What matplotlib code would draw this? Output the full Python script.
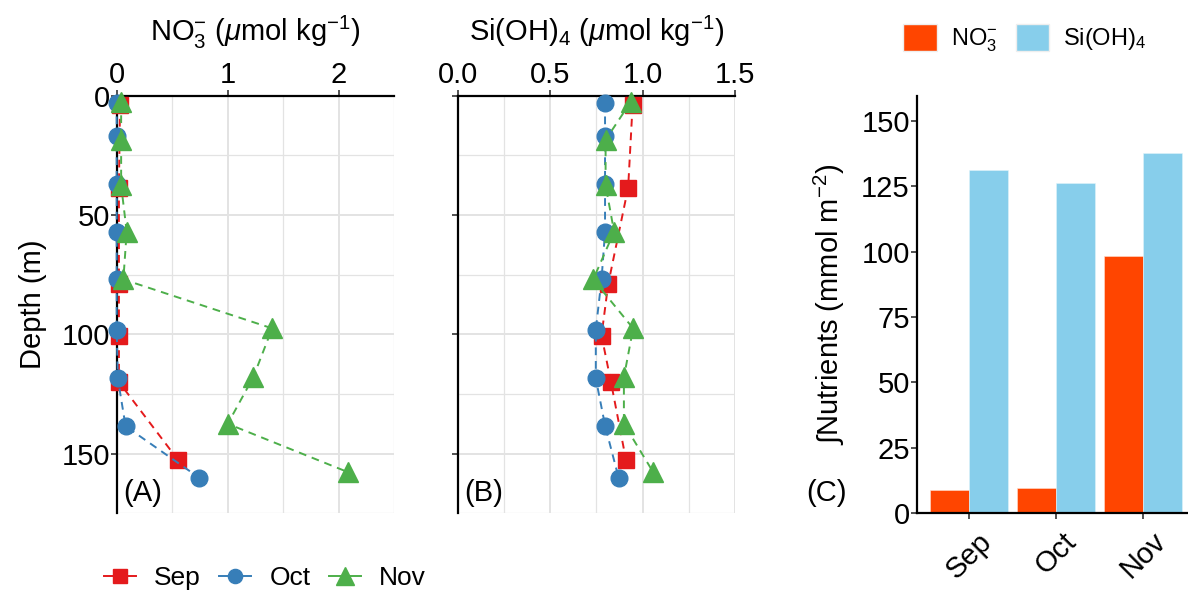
import matplotlib

matplotlib.use("Agg")

import matplotlib.pyplot as plt  # noqa: E402
from matplotlib.lines import Line2D  # noqa: E402
from matplotlib.patches import Patch  # noqa: E402
from matplotlib.ticker import MultipleLocator  # noqa: E402
import numpy as np  # noqa: E402

plt.rcParams["font.family"] = ["Liberation Sans", "DejaVu Sans"]
plt.rcParams["mathtext.fontset"] = "custom"
plt.rcParams["mathtext.rm"] = "Liberation Sans"
plt.rcParams["mathtext.it"] = "Liberation Sans:italic"
plt.rcParams["mathtext.bf"] = "Liberation Sans:bold"

# profile data (depth in m)
months = ["Sep", "Oct", "Nov"]
sep_depth = [4, 38.5, 79, 100.5, 120, 152.5]
sep_no3 = [0.03, 0.02, 0.02, 0.02, 0.02, 0.55]
sep_si = [0.946, 0.922, 0.814, 0.778, 0.829, 0.91]

oct_depth = [3, 17, 37, 57, 77, 98, 118.5, 138.5, 160]
oct_no3 = [0.0, 0.0, 0.0, 0.0, 0.0, 0.0, 0.01, 0.08, 0.74]
oct_si = [0.797, 0.797, 0.797, 0.797, 0.778, 0.747, 0.747, 0.798, 0.87]

nov_depth = [2.5, 18.5, 37.5, 57, 77, 97.5, 118, 137.5, 157.7]
nov_no3 = [0.04, 0.04, 0.04, 0.09, 0.06, 1.40, 1.23, 1.0, 2.08]
nov_si = [0.937, 0.80, 0.80, 0.846, 0.733, 0.949, 0.899, 0.899, 1.057]

# depth-integrated stocks (mmol m-2)
int_no3 = [9.0, 9.7, 98.3]
int_si = [131.3, 126.2, 137.7]

COLORS = {"Sep": "#E41A1C", "Oct": "#377EB8", "Nov": "#4DAF4A"}
MARKERS = {"Sep": ("s", 11.5), "Oct": ("o", 12), "Nov": ("^", 15)}
GRID = "#E3E3E3"
TICK_FS = 21
LAB_FS = 21

W, H = 1188, 592
fig = plt.figure(figsize=(W / 100, H / 100), dpi=100)


def fig_rect(x0, x1, ytop, ybot):
    return (x0 / W, 1 - ybot / H, (x1 - x0) / W, (ybot - ytop) / H)


axA = fig.add_axes(fig_rect(116.7, 394.3, 95.7, 513.3))
axB = fig.add_axes(fig_rect(457.7, 735.0, 95.7, 513.3))
axC = fig.add_axes(fig_rect(916.7, 1195.0, 95.7, 513.3))

profiles = {
    "Sep": (sep_depth, sep_no3, sep_si),
    "Oct": (oct_depth, oct_no3, oct_si),
    "Nov": (nov_depth, nov_no3, nov_si),
}


def style_profile(ax, xmax, major, minor, title, ylabels):
    ax.set_xlim(0, xmax)
    ax.set_ylim(175, 0)
    ax.xaxis.set_major_locator(MultipleLocator(major))
    ax.xaxis.set_minor_locator(MultipleLocator(minor))
    ax.yaxis.set_major_locator(MultipleLocator(50))
    ax.yaxis.set_minor_locator(MultipleLocator(25))
    ax.xaxis.tick_top()
    ax.xaxis.set_label_position("top")
    ax.grid(True, which="major", color=GRID, lw=1.4, zorder=0)
    ax.grid(True, which="minor", color=GRID, lw=0.9, zorder=0)
    ax.set_axisbelow(True)
    for s in ("right", "bottom"):
        ax.spines[s].set_visible(False)
    for s in ("left", "top"):
        ax.spines[s].set_linewidth(1.6)
    ax.tick_params(which="major", length=4, width=1.2, color="#333333",
                   labelsize=TICK_FS, pad=1)
    ax.tick_params(which="minor", length=0)
    if not ylabels:
        ax.tick_params(axis="y", labelleft=False)
    ax.set_title(title, fontsize=LAB_FS, pad=14)


for m in months:
    d, no3, si = profiles[m]
    mk, ms = MARKERS[m]
    for ax, vals in ((axA, no3), (axB, si)):
        ax.plot(vals, d, ls=(0, (4, 3)), lw=1.4, color=COLORS[m], marker=mk,
                ms=ms, clip_on=False, zorder=3)

style_profile(axA, 2.5, 1, 0.5, r"NO$_3^{-}$ ($\mu$mol kg$^{-1}$)", True)
axA.set_xticks([0, 1, 2])
axA.set_ylabel("Depth (m)", fontsize=LAB_FS, labelpad=10)
style_profile(axB, 1.5, 0.5, 0.25, r"Si(OH)$_4$ ($\mu$mol kg$^{-1}$)", False)
axB.xaxis.set_major_formatter(lambda v, p: f"{v:.1f}")

axA.text(0.025, 0.048, "(A)", transform=axA.transAxes, fontsize=LAB_FS,
         ha="left", va="center")
axB.text(0.025, 0.048, "(B)", transform=axB.transAxes, fontsize=LAB_FS,
         ha="left", va="center")

handles = []
for m in months:
    mk, ms = MARKERS[m]
    handles.append(Line2D([], [], color=COLORS[m], ls="-", lw=1.4,
                          marker=mk, ms=ms * 0.85, label=m))
fig.legend(handles=handles, loc="center", bbox_to_anchor=(265 / W, 1 - 578 / H),
           ncol=3, frameon=False, fontsize=19, handlelength=1.2,
           columnspacing=0.7, handletextpad=0.7)

# panel C: integrated stocks
x = np.arange(len(months))
bw = 0.45
axC.bar(x - bw / 2, int_no3, width=bw, color="#FF4500", edgecolor="#FFE0D0",
        lw=0.4, zorder=2)
axC.bar(x + bw / 2, int_si, width=bw, color="#87CEEB", edgecolor="#E0F4FB",
        lw=0.4, zorder=2)
axC.set_xlim(-0.6, 2.6)
axC.set_ylim(0, 159.6)
axC.yaxis.set_major_locator(MultipleLocator(25))
axC.set_xticks(x)
axC.set_xticklabels(months, rotation=45, ha="center", va="top")
for s in ("right", "top"):
    axC.spines[s].set_visible(False)
for s in ("left", "bottom"):
    axC.spines[s].set_linewidth(1.6)
axC.tick_params(length=4, width=1.2, color="#333333", labelsize=TICK_FS, pad=1)
axC.tick_params(axis="x", pad=6)
axC.set_ylabel(r"$\int$Nutrients (mmol m$^{-2}$)", fontsize=LAB_FS, labelpad=10)
fig.text(826 / W, 1 - 493 / H, "(C)", fontsize=LAB_FS, ha="center", va="center")

c_handles = [Patch(facecolor="#FF4500", edgecolor="#EEEEEE", label=r"NO$_3^{-}$"),
             Patch(facecolor="#87CEEB", edgecolor="#EEEEEE", label=r"Si(OH)$_4$")]
fig.legend(handles=c_handles, loc="center", bbox_to_anchor=(1025 / W, 1 - 39 / H),
           ncol=2, frameon=False, fontsize=17, handlelength=1.4,
           handleheight=1.4, columnspacing=0.8, handletextpad=0.6)

fig.savefig("out.png", dpi=100)
